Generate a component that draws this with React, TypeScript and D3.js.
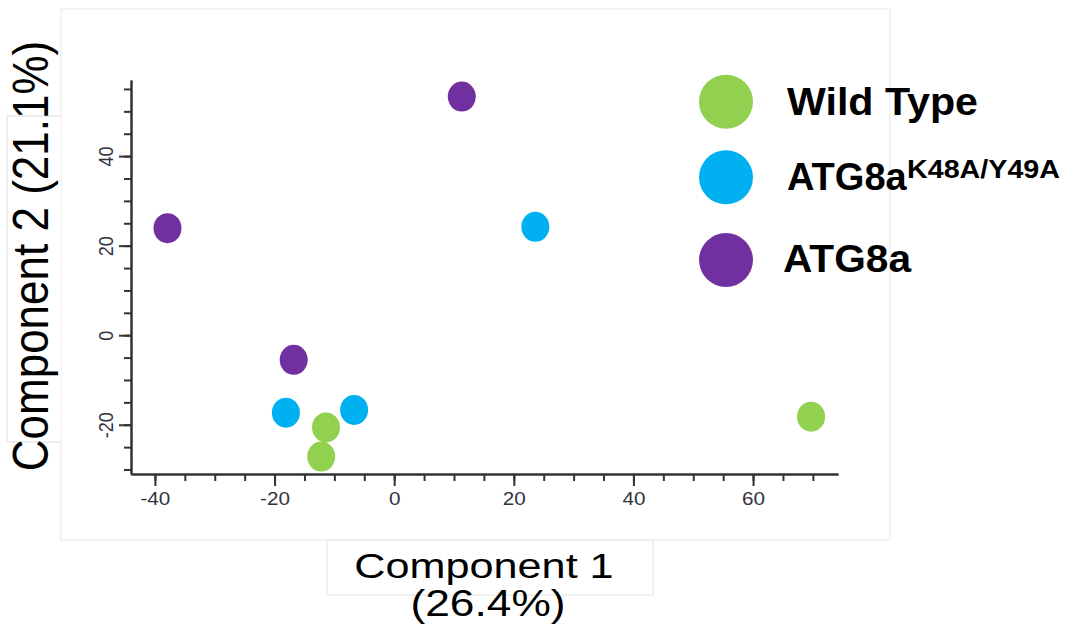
import React, { useEffect, useRef } from 'react';
import * as d3 from 'd3';

// groups, in legend order
const groupNames = ['Wild Type', 'ATG8a', 'ATG8a'];
const groupSup = ['', 'K48A/Y49A', ''];
const groupColors = ['#92d050', '#00b0f0', '#7030a0'];

// PCA scores
const wildTypeX = [-11.4, -12.2, 69.7];
const wildTypeY = [-20.6, -27.1, -18.2];
const mutantX = [-18.1, -6.7, 23.6];
const mutantY = [-17.3, -16.7, 24.2];
const atg8aX = [-37.9, -16.8, 11.3];
const atg8aY = [23.9, -5.5, 53.3];

const xMajorTicks = [-40, -20, 0, 20, 40, 60];
const xMinorTicks = [-40, -35, -30, -25, -20, -15, -10, -5, 0, 5, 10, 15, 20, 25, 30, 35, 40, 45, 50, 55, 60, 65, 70];
const yMajorTicks = [-20, 0, 20, 40];
const yMinorTicks = [-30, -25, -20, -15, -10, -5, 0, 5, 10, 15, 20, 25, 30, 35, 40, 45, 50, 55];

const xLabel = 'Component 1';
const xLabelPct = '(26.4%)';
const yLabel = 'Component 2 (21.1%)';

const FONT = 'Arial, "Liberation Sans", sans-serif';

export default function App() {
  const ref = useRef<SVGSVGElement>(null);

  useEffect(() => {
    const svg = d3.select(ref.current);
    const g = svg.select('.plot');

    const x = d3.scaleLinear().domain([-44, 74.2]).range([131, 838]);
    const y = d3.scaleLinear().domain([-31, 57]).range([474, 80]);
    const fmt = (d: any) => String(d); // plain hyphen for negatives, like the original

    // minor ticks
    g.selectAll('.x_minor').data([0]).join('g').attr('class', 'x_minor')
      .attr('transform', `translate(0, ${y(-31)})`)
      .call(d3.axisBottom(x).tickValues(xMinorTicks).tickSize(7).tickSizeOuter(0).tickFormat(() => ''));
    g.selectAll('.y_minor').data([0]).join('g').attr('class', 'y_minor')
      .attr('transform', `translate(${x(-44)}, 0)`)
      .call(d3.axisLeft(y).tickValues(yMinorTicks).tickSize(7).tickSizeOuter(0).tickFormat(() => ''));

    // major ticks + labels
    g.selectAll('.x_axis_g').data([0]).join('g').attr('class', 'x_axis_g')
      .attr('transform', `translate(0, ${y(-31)})`)
      .call(d3.axisBottom(x).tickValues(xMajorTicks).tickSize(12).tickSizeOuter(0).tickFormat(fmt));
    g.selectAll('.y_axis_g').data([0]).join('g').attr('class', 'y_axis_g')
      .attr('transform', `translate(${x(-44)}, 0)`)
      .call(d3.axisLeft(y).tickValues(yMajorTicks).tickSize(12).tickSizeOuter(0).tickFormat(fmt));

    g.selectAll('.x_minor, .y_minor, .x_axis_g, .y_axis_g').selectAll('path, line')
      .attr('stroke', '#333').attr('stroke-width', 2);

    g.select('.x_axis_g').selectAll('text')
      .attr('font-family', FONT).attr('font-size', 18).attr('fill', '#33333f')
      .attr('y', 18).attr('dy', '0.71em')
      .attr('transform', 'scale(1.15, 1)');

    g.select('.y_axis_g').selectAll('text')
      .attr('font-family', FONT).attr('font-size', 18).attr('fill', '#33333f')
      .attr('x', 0).attr('y', 0).attr('dy', 0)
      .attr('text-anchor', 'middle')
      .attr('transform', 'translate(-18, 0) rotate(-90) scale(1, 1.15)');

    // points
    const points = [
      ...wildTypeX.map((v, i) => ({ x: v, y: wildTypeY[i], c: groupColors[0] })),
      ...mutantX.map((v, i) => ({ x: v, y: mutantY[i], c: groupColors[1] })),
      ...atg8aX.map((v, i) => ({ x: v, y: atg8aY[i], c: groupColors[2] })),
    ];
    g.selectAll('ellipse.pt').data(points).join('ellipse').attr('class', 'pt')
      .attr('cx', d => x(d.x))
      .attr('cy', d => y(d.y))
      .attr('rx', 14)
      .attr('ry', 15)
      .attr('fill', d => d.c);
  }, []);

  const legendY = [101.7, 177.3, 260];

  return (
    <svg ref={ref} width={1072} height={643} style={{ position: 'absolute', left: 0, top: 0, background: '#fff' }}>
      {/* panel outlines */}
      <rect x={61} y={9} width={829} height={531} fill="#fff" stroke="#e8e8e8" strokeWidth={1} />
      <rect x={7} y={116} width={54} height={326} fill="#fff" stroke="none" />
      <path d="M61,116 H7 V442 H61" fill="none" stroke="#dcdcdc" strokeWidth={1} />
      <rect x={327} y={540} width={326} height={55} fill="#fff" stroke="#e4e4e4" strokeWidth={1} />

      <g className="plot"></g>

      {/* axis titles */}
      <text x={0} y={0} fontFamily={FONT} fontSize={44} fill="#000" textAnchor="middle"
        transform="translate(48, 256) rotate(-90) scale(1, 1.15)">{yLabel}</text>
      <text x={0} y={0} fontFamily={FONT} fontSize={36} fill="#000" textAnchor="middle"
        transform="translate(484, 578) scale(1.2, 1)">{xLabel}</text>
      <text x={0} y={0} fontFamily={FONT} fontSize={36} fill="#000" textAnchor="middle"
        transform="translate(488, 616) scale(1.23, 1)">{xLabelPct}</text>

      {/* legend */}
      {groupNames.map((name, i) => (
        <g key={i}>
          <circle cx={726} cy={legendY[i]} r={27} fill={groupColors[i]} />
          <text x={i === 2 ? 783 : 787} y={legendY[i] + (i === 2 ? 12 : 13)} fontFamily={FONT}
            fontWeight="bold" fontSize={38} fill="#000"
            textLength={i === 0 ? 191 : i === 2 ? 128 : undefined}
            lengthAdjust="spacingAndGlyphs">{name}</text>
          {groupSup[i] && (
            <text x={907} y={legendY[i] + 1} fontFamily={FONT} fontWeight="bold" fontSize={26} fill="#000"
              textLength={153} lengthAdjust="spacingAndGlyphs">{groupSup[i]}</text>
          )}
        </g>
      ))}
    </svg>
  );
}
